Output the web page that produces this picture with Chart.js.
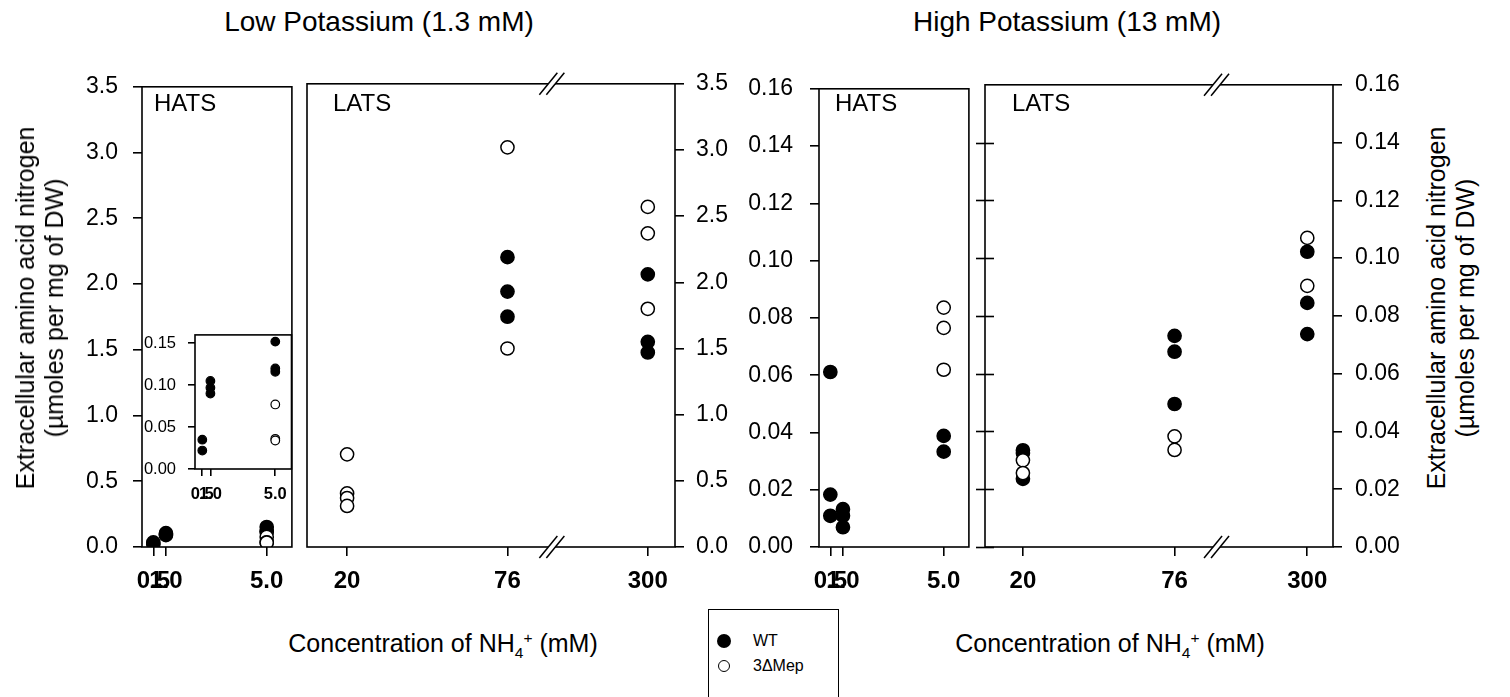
<!DOCTYPE html>
<html>
<head>
<meta charset="utf-8">
<script src="https://cdn.jsdelivr.net/npm/chart.js@4.4.0/dist/chart.umd.min.js"></script>
<style>
  body { margin: 0; background: #fff; }
  #wrap { position: relative; width: 1510px; height: 697px; overflow: hidden; background: #fff;
          font-family: "Liberation Sans", Arial, sans-serif; color: #000; }
  canvas { position: absolute; }
  .t { position: absolute; white-space: nowrap; line-height: 1; }
  .c { transform: translateX(-50%); }
  .rot { position: absolute; white-space: nowrap; text-align: center; font-size: 25px; line-height: 29px;
         transform: translate(-50%, -50%) rotate(-90deg); }
  .dot { position: absolute; border-radius: 50%; box-sizing: border-box; }
</style>
</head>
<body>
<div id="wrap">
  <canvas id="lowHats" width="258" height="549" style="left:42px;top:58px"></canvas>
  <canvas id="lowLats" width="450" height="549" style="left:297px;top:58px"></canvas>
  <canvas id="lowInset" width="162" height="196" style="left:135px;top:313px"></canvas>
  <canvas id="highHats" width="258" height="549" style="left:719px;top:58px"></canvas>
  <canvas id="highLats" width="430" height="549" style="left:975px;top:58px"></canvas>

  <div class="t c" style="left:379px;top:8px;font-size:28px">Low Potassium (1.3 mM)</div>
  <div class="t c" style="left:1067px;top:8px;font-size:28px">High Potassium (13 mM)</div>

  <div class="t" style="left:154px;top:91px;font-size:24px">HATS</div>
  <div class="t" style="left:333px;top:91px;font-size:24px">LATS</div>
  <div class="t" style="left:835px;top:91px;font-size:24px">HATS</div>
  <div class="t" style="left:1012px;top:91px;font-size:24px">LATS</div>

  <div class="t c" style="left:443px;top:630px;font-size:25px">Concentration of NH<span style="font-size:0.62em;vertical-align:-0.4em">4</span><span style="font-size:0.62em;vertical-align:0.6em">+</span> (mM)</div>
  <div class="t c" style="left:1110px;top:630px;font-size:25px">Concentration of NH<span style="font-size:0.62em;vertical-align:-0.4em">4</span><span style="font-size:0.62em;vertical-align:0.6em">+</span> (mM)</div>

  <div class="rot" style="left:40px;top:308px">Extracellular amino acid nitrogen<br>(µmoles per mg of DW)</div>
  <div class="rot" style="left:1451px;top:308px">Extracellular amino acid nitrogen<br>(µmoles per mg of DW)</div>

  <div style="position:absolute;left:708px;top:609px;width:131px;height:100px;border:1.5px solid #000;box-sizing:border-box"></div>
  <div class="dot" style="left:717px;top:634px;width:14px;height:14px;background:#000"></div>
  <div class="dot" style="left:718px;top:660px;width:12px;height:12px;border:1.5px solid #000;background:#fff"></div>
  <div class="t" style="left:753px;top:633px;font-size:16px">WT</div>
  <div class="t" style="left:753px;top:658px;font-size:16px">3ΔMep</div>
</div>

<script>
// NH4+ concentrations (mM) and tick labels
var hatsConc = [0.5, 1.0, 5.0];
var hatsTickLabels = ['0.5', '1.0', '5.0'];
var latsConc = [20, 76, 300];
var latsTickLabels = ['20', '76', '300'];

var lowYTicks = [0, 0.5, 1.0, 1.5, 2.0, 2.5, 3.0, 3.5];
var highYTicks = [0, 0.02, 0.04, 0.06, 0.08, 0.10, 0.12, 0.14, 0.16];
var insetYTicks = [0, 0.05, 0.10, 0.15];

// low potassium (1.3 mM), one list of replicates per concentration
var lowHatsWT = [[0.035, 0.022], [0.105, 0.097, 0.090], [0.152, 0.120, 0.116]];
var lowHatsMep = [[], [], [0.077, 0.036, 0.034]];
var lowLatsWT = [[], [2.19, 1.93, 1.74], [2.06, 1.55, 1.47]];
var lowLatsMep = [[0.70, 0.405, 0.37, 0.31], [3.02, 1.50], [2.57, 2.37, 1.80]];

// high potassium (13 mM)
var highHatsWT = [[0.0611, 0.0183, 0.0109], [0.0132, 0.0109, 0.0069], [0.0388, 0.0333]];
var highHatsMep = [[], [], [0.0836, 0.0765, 0.0619]];
var highLatsWT = [[0.0335, 0.0325, 0.0236], [0.0731, 0.0676, 0.0495], [0.1022, 0.0845, 0.0737]];
var highLatsMep = [[0.0300, 0.0256], [0.0383, 0.0336], [0.1070, 0.0904]];

// axis break on the LATS panels: everything above 90 is pulled back by 175
var breakFrom = 90, breakGap = 175, breakMark = 91.5;
function latsPos(c) { return c > breakFrom ? c - breakGap : c; }

Chart.defaults.font.family = '"Liberation Sans", Arial, sans-serif';
Chart.defaults.color = '#000';

function points(conc, groups, pos) {
  var out = [];
  groups.forEach(function (g, i) {
    g.forEach(function (v) { out.push({ x: pos ? pos(conc[i]) : conc[i], y: v }); });
  });
  return out;
}

var framePlugin = {
  id: 'frame',
  afterDraw: function (chart, args, opts) {
    var ctx = chart.ctx, a = chart.chartArea;
    ctx.save();
    ctx.strokeStyle = '#000';
    ctx.lineWidth = 1.6;
    ctx.strokeRect(a.left, a.top, a.right - a.left, a.bottom - a.top);
    if (opts.crossTicks) {
      var ys = chart.scales.y;
      ys.ticks.forEach(function (t, i) {
        if (i === ys.ticks.length - 1) return;
        var py = Math.round(ys.getPixelForValue(t.value)) + 0.5;
        ctx.beginPath(); ctx.moveTo(a.left - 9, py); ctx.lineTo(a.left + 9, py); ctx.stroke();
      });
    }
    if (opts.breakAt != null) {
      var px = chart.scales.x.getPixelForValue(opts.breakAt);
      [a.top, a.bottom].forEach(function (py) {
        ctx.fillStyle = '#fff';
        ctx.beginPath();
        ctx.moveTo(px - 3.5 - 9, py + 11); ctx.lineTo(px - 3.5 + 9, py - 11);
        ctx.lineTo(px + 3.5 + 9, py - 11); ctx.lineTo(px + 3.5 - 9, py + 11);
        ctx.closePath(); ctx.fill();
        ctx.lineWidth = 1.5;
        [-3.5, 3.5].forEach(function (o) {
          ctx.beginPath(); ctx.moveTo(px + o - 9, py + 11); ctx.lineTo(px + o + 9, py - 11); ctx.stroke();
        });
      });
    }
    ctx.restore();
  }
};

function tickGrid(len) {
  return { display: true, drawOnChartArea: false, drawTicks: true, tickLength: len, color: '#000', lineWidth: 1.6 };
}

function makePanel(id, p) {
  var r = p.small ? 4.3 : 6.6;
  var bw = p.small ? 1.2 : 1.5;
  new Chart(document.getElementById(id), {
    type: 'scatter',
    data: {
      datasets: [
        { label: '3ΔMep', data: p.mep, order: 0, pointRadius: r, borderWidth: bw,
          backgroundColor: '#fff', borderColor: '#000' },
        { label: 'WT', data: p.wt, order: 1, pointRadius: r, borderWidth: bw,
          backgroundColor: '#000', borderColor: '#000' }
      ]
    },
    options: {
      responsive: false,
      animation: false,
      events: [],
      layout: { padding: p.padding },
      plugins: { legend: { display: false }, tooltip: { enabled: false }, frame: p.frame || {} },
      scales: {
        x: {
          type: 'linear', min: p.xMin, max: p.xMax,
          border: { display: false },
          grid: tickGrid(p.small ? 7 : 9),
          afterBuildTicks: function (s) { s.ticks = p.xTicks.map(function (v) { return { value: v }; }); },
          afterFit: function (s) { s.height = p.xHeight; },
          ticks: {
            autoSkip: false, maxRotation: 0, minRotation: 0,
            padding: p.small ? 9 : 11,
            font: { size: p.small ? 16.5 : 24, weight: 'bold' },
            callback: function (v, i) { return p.xLabels[i]; }
          }
        },
        y: {
          type: 'linear', position: p.yPos, min: p.yMin, max: p.yMax,
          border: { display: false },
          grid: tickGrid(p.small ? 7 : 9),
          afterBuildTicks: function (s) { s.ticks = p.yTicks.map(function (v) { return { value: v }; }); },
          afterFit: function (s) { s.width = p.yWidth; },
          ticks: {
            padding: p.yPad,
            font: { size: p.small ? 16.5 : 23 },
            callback: function (v) { return v.toFixed(p.yDec); }
          }
        }
      }
    },
    plugins: [framePlugin]
  });
}

// Low potassium
makePanel('lowHats', {
  wt: points(hatsConc, lowHatsWT), mep: points(hatsConc, lowHatsMep),
  xMin: 0.05, xMax: 6.0, xTicks: hatsConc, xLabels: hatsTickLabels, xHeight: 60,
  yPos: 'left', yMin: 0, yMax: 3.5, yTicks: lowYTicks, yDec: 1, yWidth: 100, yPad: 15,
  padding: { top: 20, right: 6, bottom: 0, left: 0 }
});
makePanel('lowInset', {
  small: true,
  wt: points(hatsConc, lowHatsWT), mep: points(hatsConc, lowHatsMep),
  xMin: 0.05, xMax: 6.0, xTicks: hatsConc, xLabels: hatsTickLabels, xHeight: 40,
  yPos: 'left', yMin: 0, yMax: 0.16, yTicks: insetYTicks, yDec: 2, yWidth: 60, yPad: 12,
  padding: { top: 15, right: 4, bottom: 0, left: 0 }
});
makePanel('lowLats', {
  wt: points(latsConc, lowLatsWT, latsPos), mep: points(latsConc, lowLatsMep, latsPos),
  xMin: 6, xMax: 134.5, xTicks: latsConc.map(latsPos), xLabels: latsTickLabels, xHeight: 60,
  yPos: 'right', yMin: 0, yMax: 3.5, yTicks: lowYTicks, yDec: 1, yWidth: 72, yPad: 12,
  padding: { top: 20, right: 0, bottom: 0, left: 10 },
  frame: { breakAt: breakMark }
});

// High potassium
makePanel('highHats', {
  wt: points(hatsConc, highHatsWT), mep: points(hatsConc, highHatsMep),
  xMin: 0.05, xMax: 6.0, xTicks: hatsConc, xLabels: hatsTickLabels, xHeight: 60,
  yPos: 'left', yMin: 0, yMax: 0.16, yTicks: highYTicks, yDec: 2, yWidth: 100, yPad: 17,
  padding: { top: 20, right: 6, bottom: 0, left: 0 }
});
makePanel('highLats', {
  wt: points(latsConc, highLatsWT, latsPos), mep: points(latsConc, highLatsMep, latsPos),
  xMin: 6, xMax: 134.5, xTicks: latsConc.map(latsPos), xLabels: latsTickLabels, xHeight: 60,
  yPos: 'right', yMin: 0, yMax: 0.16, yTicks: highYTicks, yDec: 2, yWidth: 72, yPad: 13,
  padding: { top: 20, right: 0, bottom: 0, left: 10 },
  frame: { breakAt: breakMark, crossTicks: true }
});
</script>
</body>
</html>
